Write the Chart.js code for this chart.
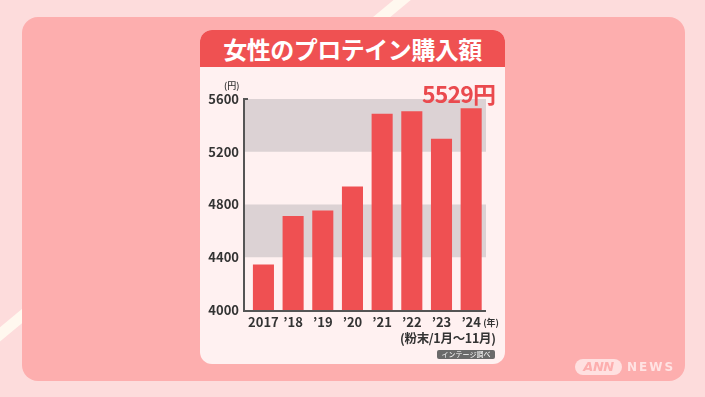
<!DOCTYPE html>
<html><head><meta charset="utf-8">
<script src="https://cdn.jsdelivr.net/npm/chart.js@4/dist/chart.umd.min.js"></script>
<style>
html,body{margin:0;padding:0;}
body{width:705px;height:397px;position:relative;overflow:hidden;background:#fddcdc;font-family:"Noto Sans CJK JP","Noto Sans",sans-serif;}
#panel{position:absolute;left:22px;top:17px;width:663px;height:364px;background:#fdaeae;border-radius:16px;}
#card{position:absolute;left:200px;top:30px;width:305px;height:334px;background:#fff1f1;border-radius:12px;overflow:hidden;}
#head{position:absolute;left:0;top:0;width:305px;height:37px;background:#ef5152;color:#fff;font-weight:700;font-size:24px;line-height:37px;text-align:center;letter-spacing:-0.5px;}
#c{position:absolute;left:0;top:0;}
.t{position:absolute;white-space:nowrap;}
</style></head>
<body>
<svg style="position:absolute;left:0;top:0" width="705" height="397"><line x1="425" y1="-19" x2="-20" y2="351" stroke="#fff8ef" stroke-width="11"/></svg>
<div id="panel"></div>
<div id="card"><div id="head">女性のプロテイン購入額</div></div>
<canvas id="c" width="705" height="397"></canvas>
<div class="t" id="unit" style="left:224px;top:79px;font-size:9px;color:#333;font-weight:500;">(円)</div>
<div class="t" id="big" style="left:422px;top:80px;font-size:23px;font-weight:700;color:#ea4a4e;line-height:26px;letter-spacing:-0.8px;"></div>
<div class="t" style="left:400px;top:330px;font-size:12.5px;color:#333;font-weight:700;line-height:16px;letter-spacing:-0.3px;">(粉末/1月〜11月)</div>
<div class="t" style="left:437px;top:350px;width:58px;height:9px;background:#6a6a6a;border-radius:2px;color:#fff;font-size:7px;line-height:9px;text-align:center;">インテージ調べ</div>
<div class="t" style="left:575px;top:359px;width:47px;height:16px;background:rgba(255,240,240,0.75);border-radius:8px;color:#fdaeae;font-size:13px;font-weight:900;font-style:italic;line-height:16px;text-align:center;font-family:'DejaVu Sans',sans-serif;letter-spacing:-0.5px;">ANN</div>
<div class="t" style="left:627px;top:359px;color:rgba(255,240,240,0.8);font-size:12px;font-weight:700;line-height:16px;letter-spacing:2px;font-family:'DejaVu Sans',sans-serif;">NEWS</div>
<script>
const categories = ["2017", "’18", "’19", "’20", "’21", "’22", "’23", "’24"];
const values = [4345, 4712, 4755, 4936, 5489, 5507, 5298, 5529];
const yTicks = [4000, 4400, 4800, 5200, 5600];
const bands = [[4400, 4800], [5200, 5600]];

document.getElementById('big').textContent = values[values.length - 1] + '円';

const deco = {
  id: 'deco',
  beforeDatasetsDraw(chart) {
    const {ctx, scales: {y}} = chart;
    ctx.save();
    ctx.fillStyle = '#dcd2d4';
    bands.forEach(([lo, hi]) => {
      const t = y.getPixelForValue(hi), b = y.getPixelForValue(lo);
      ctx.fillRect(245, t, 486 - 245, b - t);
    });
    ctx.restore();
  },
  afterDatasetsDraw(chart) {
    const {ctx, scales: {x, y}} = chart;
    ctx.save();
    ctx.strokeStyle = '#555';
    ctx.lineWidth = 2;
    const top = y.getPixelForValue(yTicks[yTicks.length - 1]);
    const bot = y.getPixelForValue(yTicks[0]);
    ctx.beginPath();
    ctx.moveTo(248, top); ctx.lineTo(244, top); ctx.lineTo(244, bot + 1); ctx.lineTo(486, bot + 1);
    ctx.stroke();
    ctx.fillStyle = '#333';
    ctx.font = '700 9px "Noto Sans CJK JP"';
    ctx.textBaseline = 'middle';
    ctx.textAlign = 'left';
    const lx = x.getPixelForValue(categories.length - 1);
    ctx.fillText('(年)', lx + 12, 323);
    ctx.restore();
  }
};

new Chart(document.getElementById('c'), {
  type: 'bar',
  data: { labels: categories, datasets: [{ data: values, backgroundColor: '#ef5052', borderWidth: 0, categoryPercentage: 1, barPercentage: 0.71 }] },
  options: {
    responsive: false, animation: false,
    layout: { padding: { left: 200, right: 219, top: 99, bottom: 67 } },
    plugins: { legend: { display: false }, tooltip: { enabled: false } },
    scales: {
      x: {
        grid: { display: false, drawTicks: false }, border: { display: false },
        ticks: { color: '#333', font: { family: 'Noto Sans CJK JP', size: 13, weight: '700' }, padding: 4, maxRotation: 0, autoSkip: false },
        afterFit(s) { s.height = 20; }
      },
      y: {
        min: 4000, max: 5600,
        afterBuildTicks(s) { s.ticks = yTicks.map(v => ({ value: v })); },
        grid: { display: false, drawTicks: false }, border: { display: false },
        ticks: { color: '#333', font: { family: 'Noto Sans CJK JP', size: 13, weight: '700' }, padding: 9.6, callback: v => String(v) },
        afterFit(s) { s.width = 48.6; }
      }
    }
  },
  plugins: [deco]
});
</script>
</body></html>
